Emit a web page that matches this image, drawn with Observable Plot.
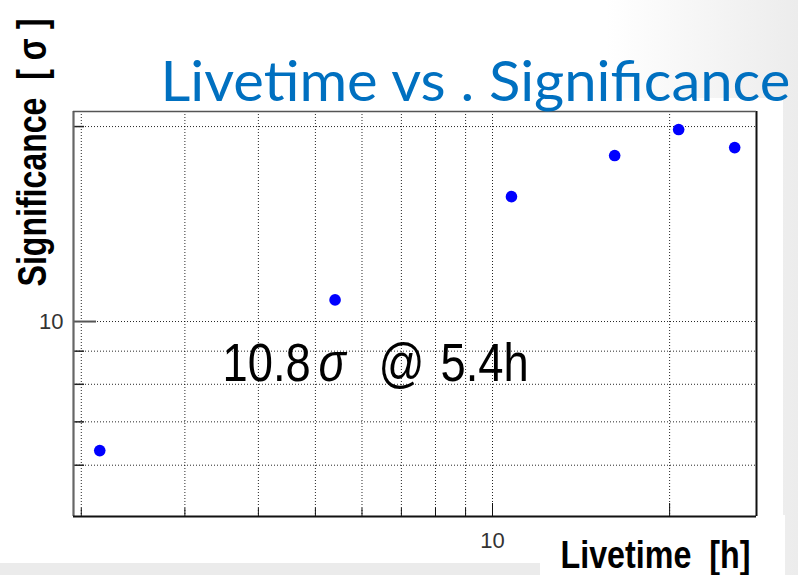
<!DOCTYPE html>
<html>
<head>
<meta charset="utf-8">
<script src="https://cdn.jsdelivr.net/npm/d3@7"></script>
<script src="https://cdn.jsdelivr.net/npm/@observablehq/plot@0.6"></script>
<style>
  html, body { margin: 0; padding: 0; }
  body { width: 798px; height: 575px; overflow: hidden; background: #fff; }
  #slide { position: relative; width: 798px; height: 575px;
           background: linear-gradient(90deg, #fff 0%, #fff 76%, #ececec 100%); }
  #sheet { position: absolute; left: 0; top: 98px; width: 783px; height: 465px; background: #fff; }
  #xbox  { position: absolute; left: 540px; top: 515px; width: 245px; height: 60px; background: #fff; }
  #band  { position: absolute; left: 0; top: 563px; width: 540px; height: 12px; background: #ebebeb; }
  #chart { position: absolute; left: 0; top: 0; }
</style>
</head>
<body>
<div id="slide">
  <div id="sheet"></div>
  <div id="band"></div>
  <div id="xbox"></div>
  <div id="chart"></div>
</div>
<script>
// Measured livetime (hours) and detection significance (sigma)
const hours  = [2.15, 5.4, 10.77, 16.13, 20.72, 25.8];
const sigmas = [6.32, 10.8, 15.59, 18.04, 19.79, 18.56];

// Log-axis ranges, grid lines and ticks
const xDomain = [1.94, 28.1];
const yDomain = [5.0, 21.1];
const xGridTicks  = [2, 3, 4, 5, 6, 7, 8, 9, 10, 20];
const xMinorTicks = [2, 3, 4, 5, 6, 7, 8, 9];
const xMajorTicks = [10, 20];
const xTickLabels = [10];
const yGridTicks  = [6, 7, 8, 9, 10, 20];
const yMinorTicks = [6, 7, 8, 9, 20];
const yMajorTicks = [10];
const yTickLabels = [10];

// Texts
const titleText  = "Livetime vs . Significance";
const xTitleText = "Livetime  [h]";
const yTitleText = "Significance  [ σ ]";
const noteIndex  = 1; // the highlighted measurement
const noteText   = `${sigmas[noteIndex]}σ @ ${hours[noteIndex]}h`;

const rows = hours.map((h, i) => ({hours: h, sigma: sigmas[i]}));

const gridStyle = {stroke: "#000", strokeOpacity: 0.85, strokeWidth: 1, strokeDasharray: "1,2"};
const sansFont = "'Liberation Sans', Arial, sans-serif";

const chart = Plot.plot({
  width: 798,
  height: 575,
  marginLeft: 73,
  marginRight: 42,
  marginTop: 111,
  marginBottom: 59,
  style: {background: "transparent", overflow: "visible", fontFamily: sansFont},
  x: {type: "log", domain: xDomain, label: null},
  y: {type: "log", domain: yDomain, label: null},
  marks: [
    Plot.gridX({ticks: xGridTicks, ...gridStyle}),
    Plot.gridY({ticks: yGridTicks, ...gridStyle}),

    // inward ticks along the bottom and left edges
    Plot.axisX({ticks: xMinorTicks, tickSize: -8, text: null, label: null, stroke: "#111"}),
    Plot.axisX({ticks: xMajorTicks, tickSize: -13, text: null, label: null, stroke: "#111"}),
    Plot.axisX({ticks: xTickLabels, tickSize: 0, tickPadding: 16, fontSize: 22, fill: "#333",
                tickFormat: d => `${d}`, label: null}),
    Plot.axisY({ticks: yMinorTicks, tickSize: -11, text: null, label: null, stroke: "#222", strokeWidth: 1.5}),
    Plot.axisY({ticks: yMajorTicks, tickSize: -23, text: null, label: null, stroke: "#555", strokeWidth: 2}),
    Plot.axisY({ticks: yTickLabels, tickSize: 0, tickPadding: 10, fontSize: 22, fill: "#333",
                tickFormat: d => `${d}`, label: null}),

    // frame
    Plot.ruleX([xDomain[0]], {stroke: "#666", strokeWidth: 2.2}),
    Plot.ruleX([xDomain[1]], {stroke: "#111", strokeWidth: 2}),
    Plot.ruleY([yDomain[0]], {stroke: "#111", strokeWidth: 2}),
    Plot.ruleY([yDomain[1]], {stroke: "#555", strokeWidth: 1.5}),

    // measurements
    Plot.dot(rows, {x: "hours", y: "sigma", r: 5.8, fill: "#0000ff"}),

    // texts anchored to the frame's top-left corner
    Plot.text([noteText], {text: d => d, frameAnchor: "top-left", dx: 149, dy: 269,
      textAnchor: "start", lineAnchor: "bottom", fontSize: 54, fill: "#000", fontFamily: sansFont}),
    Plot.text([titleText], {text: d => d, frameAnchor: "top-left", dx: 87, dy: -11,
      textAnchor: "start", lineAnchor: "bottom", fontSize: 57, fill: "#0070c0",
      fontFamily: "Lato, 'Open Sans', sans-serif"}),
    Plot.text([xTitleText], {text: d => d, frameAnchor: "top-left", dx: 487, dy: 456,
      textAnchor: "start", lineAnchor: "bottom", fontSize: 38, fontWeight: "bold", fill: "#000",
      fontFamily: sansFont}),
    Plot.text([yTitleText], {text: d => d, frameAnchor: "top-left", dx: -28, dy: 175, rotate: -90,
      textAnchor: "start", lineAnchor: "bottom", fontSize: 41, fontWeight: "bold", fill: "#000",
      fontFamily: sansFont})
  ]
});

document.getElementById("chart").appendChild(chart);

// Condense text runs horizontally (along their own direction) to a given length
const svg = d3.select(chart);
function textNode(content) {
  return svg.selectAll("text").filter(function () { return this.textContent === content; });
}
function squeeze(sel, sx) {
  const t = sel.attr("transform") || "";
  sel.attr("transform", `${t} scale(${sx},1)`).style("white-space", "pre");
}
function fit(content, length) {
  const sel = textNode(content);
  sel.style("white-space", "pre");
  squeeze(sel, length / sel.node().getComputedTextLength());
}
fit(titleText, 630);
fit(xTitleText, 190);
fit(yTitleText, 268);

// The note is set in runs, each starting at a fixed offset from the note's left edge
const noteScale = 0.84;
const note = textNode(noteText);
const [value, rest] = noteText.split("σ");
const runs = [
  {text: value.trim(), offset: 0, italic: false},
  {text: "σ", offset: 96, italic: true},
  {text: "@", offset: 156, italic: false},
  {text: rest.replace("@", "").trim(), offset: 218, italic: false}
];
note.text(null);
squeeze(note, noteScale);
let cursor = 0;
for (const run of runs) {
  const t = note.append("tspan").text(run.text);
  if (run.italic) t.attr("font-style", "italic");
  const start = run.offset / noteScale;
  t.attr("dx", start - cursor);
  cursor = start + t.node().getComputedTextLength();
}
</script>
</body>
</html>
